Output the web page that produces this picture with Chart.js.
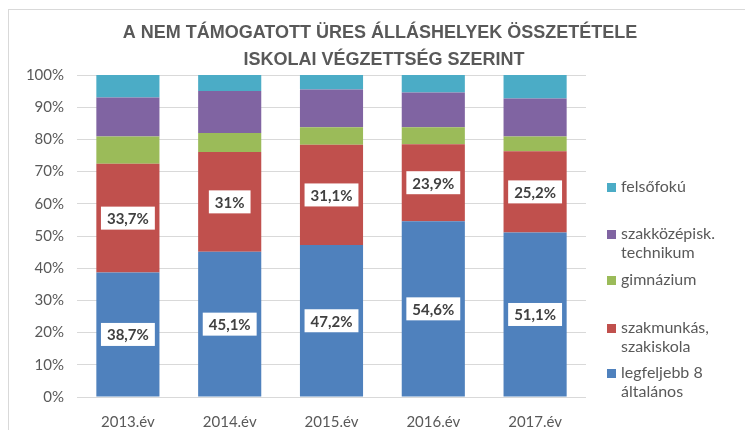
<!DOCTYPE html>
<html>
<head>
<meta charset="utf-8">
<script src="https://cdn.jsdelivr.net/npm/chart.js@4"></script>
<style>
  html, body { margin: 0; padding: 0; background: #fff; }
  #wrap { position: relative; width: 745px; height: 430px; }
</style>
</head>
<body>
<div id="wrap"><canvas id="chart"></canvas></div>
<script>
const years = ['2013.év', '2014.év', '2015.év', '2016.év', '2017.év'];
const titleLines = ['A NEM TÁMOGATOTT ÜRES ÁLLÁSHELYEK ÖSSZETÉTELE', 'ISKOLAI VÉGZETTSÉG SZERINT'];

const legfeljebb8 = [38.7, 45.1, 47.2, 54.6, 51.1];
const szakmunkas = [33.7, 31, 31.1, 23.9, 25.2];
const gimnazium = [8.5, 5.9, 5.5, 5.3, 4.6];
const szakkozep = [12.1, 13.0, 11.7, 10.8, 11.8];
const felsofoku = [7.0, 5.0, 4.5, 5.4, 7.3];

const seriesNames = [
  ['legfeljebb 8', 'általános'],
  ['szakmunkás,', 'szakiskola'],
  ['gimnázium'],
  ['szakközépisk.', 'technikum'],
  ['felsőfokú']
];
const labelled = [true, true, false, false, false];

const colors = ['#4F81BD', '#C0504D', '#9BBB59', '#8064A2', '#4BACC6'];
const gray = '#595959';
const titleFam = "'Liberation Sans', sans-serif";
const tickFam = "Lato, 'Open Sans', sans-serif";

// border + title
const framePlugin = {
  id: 'frame',
  beforeDraw(chart) {
    const ctx = chart.ctx;
    ctx.save();
    ctx.strokeStyle = '#d9d9d9';
    ctx.lineWidth = 1;
    ctx.strokeRect(8.5, 9.5, 760, 440);
    ctx.fillStyle = gray;
    ctx.font = "bold 18px " + titleFam;
    ctx.textAlign = 'center';
    ctx.textBaseline = 'middle';
    ctx.fillText(titleLines[0], 380, 33);
    ctx.fillText(titleLines[1], 384, 60);
    ctx.restore();
  }
};

// white boxes with the percentages
const boxLabels = {
  id: 'boxLabels',
  afterDatasetsDraw(chart) {
    const ctx = chart.ctx;
    ctx.save();
    ctx.font = "bold 15px " + tickFam;
    ctx.textAlign = 'center';
    ctx.textBaseline = 'middle';
    chart.data.datasets.forEach((ds, i) => {
      if (!labelled[i]) return;
      chart.getDatasetMeta(i).data.forEach((bar, j) => {
        const txt = String(ds.data[j]).replace('.', ',') + '%';
        const w = ctx.measureText(txt).width + 12;
        const h = 23;
        const cy = (bar.y + bar.base) / 2;
        ctx.fillStyle = '#fff';
        ctx.fillRect(bar.x - w / 2, cy - h / 2, w, h);
        ctx.fillStyle = '#404040';
        ctx.fillText(txt, bar.x, cy + 1);
      });
    });
    ctx.restore();
  }
};

// legend on the right, reversed order
const legendYs = [373, 328, 280, 234, 187];
const sideLegend = {
  id: 'sideLegend',
  afterDraw(chart) {
    const ctx = chart.ctx;
    ctx.save();
    ctx.font = "16px " + tickFam;
    ctx.textBaseline = 'middle';
    ctx.textAlign = 'left';
    chart.data.datasets.forEach((ds, i) => {
      const y = legendYs[i];
      ctx.fillStyle = ds.backgroundColor;
      ctx.fillRect(607, y - 4, 9, 9);
      ctx.fillStyle = gray;
      seriesNames[i].forEach((line, k) => ctx.fillText(line, 621, y + k * 19));
    });
    ctx.restore();
  }
};

const datasets = [legfeljebb8, szakmunkas, gimnazium, szakkozep, felsofoku].map((d, i) => ({
  label: seriesNames[i].join(' '),
  data: d,
  backgroundColor: colors[i],
  borderWidth: 0,
  categoryPercentage: 0.62,
  barPercentage: 1
}));

new Chart(document.getElementById('chart'), {
  type: 'bar',
  data: { labels: years, datasets },
  options: {
    responsive: true,
    maintainAspectRatio: false,
    animation: false,
    layout: { padding: { top: 75, right: 159, bottom: 0, left: 0 } },
    plugins: {
      legend: { display: false },
      title: { display: false },
      tooltip: { enabled: false }
    },
    scales: {
      x: {
        stacked: true,
        afterFit(s) { s.height = 33; },
        grid: { display: false },
        border: { display: false },
        ticks: { color: gray, font: { family: tickFam, size: 15 }, padding: 8 }
      },
      y: {
        stacked: true,
        min: 0,
        max: 100,
        afterFit(s) { s.width = 77; },
        grid: { color: '#d9d9d9', drawTicks: false },
        border: { display: false },
        ticks: {
          stepSize: 10,
          color: gray,
          padding: 13,
          font: { family: tickFam, size: 15 },
          callback: v => v + '%'
        }
      }
    }
  },
  plugins: [framePlugin, boxLabels, sideLegend]
});
</script>
</body>
</html>
